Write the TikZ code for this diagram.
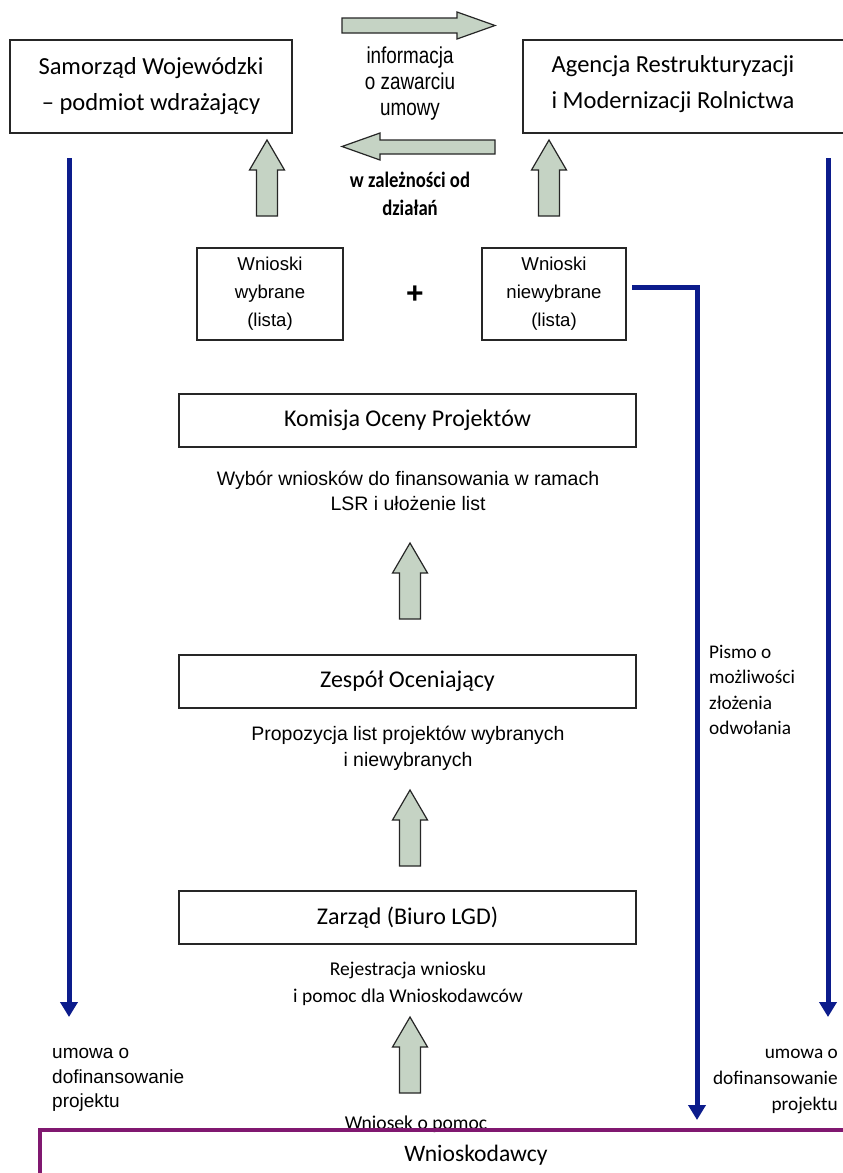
\documentclass[tikz,border=0pt]{standalone}
\usepackage{fontspec}
\setmainfont{Carlito}
\newfontfamily\arialf{Liberation Sans}
\newfontfamily\narrowf[FakeStretch=0.82]{Liberation Sans}
\newfontfamily\condf[FakeStretch=0.85]{Carlito}
\usetikzlibrary{arrows.meta}
\definecolor{arrfill}{RGB}{197,211,196}
\definecolor{navy}{RGB}{12,28,140}
\definecolor{purp}{RGB}{128,24,112}
\newcommand\fs[2]{\fontsize{#1}{#2}\selectfont}
\begin{document}
\begin{tikzpicture}[x=1pt,y=-1pt,
 box/.style={draw=black!85, line width=1.3pt, inner sep=0pt, align=center},
 lbl/.style={inner sep=0pt, align=center},
 blk/.style={draw=black!85, line width=1.2pt, fill=arrfill, line join=miter},
 conn/.style={draw=navy, line width=5pt, line join=miter, -{Triangle[length=15pt,width=17pt]}},
 uparr/.pic={\path[blk] (0,0) -- (17.5,30) -- (10.5,30) -- (10.5,76) -- (-10.5,76) -- (-10.5,30) -- (-17.5,30) -- cycle;}
]
\useasboundingbox (0,0) rectangle (843,1173);
\clip (0,0) rectangle (843,1173);
\fill[white] (0,0) rectangle (843,1173);

% top boxes
\node[box, minimum width=282pt, minimum height=93pt, font=\fs{24.5}{36}] (sw) at (151,86.5) {Samorząd Wojewódzki\\– podmiot wdrażający};
\node[box, minimum width=330pt, minimum height=93pt] (ag) at (688,86.5) {};
\node[lbl, font=\fs{24.5}{36}] (agt) at (673,84) {Agencja Restrukturyzacji\\i Modernizacji Rolnictwa};

% horizontal block arrows
\path[blk] (342,18) -- (457,18) -- (457,12) -- (495,25.5) -- (457,39) -- (457,33) -- (342,33) -- cycle;
\path[blk] (495,140) -- (380,140) -- (380,133) -- (342,146.5) -- (380,160) -- (380,154) -- (495,154) -- cycle;
\node[lbl, font=\narrowf\fs{23}{26}] (info) at (410,84) {informacja\\o zawarciu\\umowy};
\node[lbl, font=\condf\bfseries\fs{22}{28}] (zal) at (410,194) {w zależności od\\działań};

% up arrows to top boxes
\pic at (267,140) {uparr};
\pic at (549,140) {uparr};

% lists
\node[box, minimum width=146pt, minimum height=92pt, font=\arialf\fs{18.6}{28}] (wyb) at (270,294) {Wnioski\\wybrane\\(lista)};
\node[lbl, font=\arialf\bfseries\fs{30}{30}] (plus) at (415,295) {+};
\node[box, minimum width=144pt, minimum height=92pt, font=\arialf\fs{18.6}{28}] (nwyb) at (554,294) {Wnioski\\niewybrane\\(lista)};

% central column
\node[box, minimum width=457pt, minimum height=53pt, font=\fs{24}{28}] (kop) at (407.5,420.5) {Komisja Oceny Projektów};
\node[lbl, font=\arialf\fs{19.5}{25}] (kopt) at (408,490.5) {Wybór wniosków do finansowania w ramach\\LSR i ułożenie list};
\pic at (410,543) {uparr};
\node[box, minimum width=457pt, minimum height=53pt, font=\fs{24}{28}] (zo) at (407.5,681.5) {Zespół Oceniający};
\node[lbl, font=\arialf\fs{19.5}{26}] (zot) at (408,748) {Propozycja list projektów wybranych\\i niewybranych};
\pic at (410,790) {uparr};
\node[box, minimum width=457pt, minimum height=53pt, font=\fs{24}{28}] (zb) at (407.5,917.5) {Zarząd (Biuro LGD)};
\node[lbl, font=\fs{19.5}{27}] (zbt) at (408,983.5) {Rejestracja wniosku\\i pomoc dla Wnioskodawców};
\pic at (410,1017) {uparr};
\node[lbl, font=\fs{19.6}{24}] (wop) at (416,1124) {Wniosek o pomoc};

% bottom box
\node[draw=purp, line width=3.5pt, minimum width=830pt, minimum height=80pt, anchor=north west, inner sep=0pt] (wn) at (38,1128) {};
\node[lbl, font=\fs{23.6}{28}] (wnt) at (476,1155) {Wnioskodawcy};

% blue connectors
\coordinate (l1) at (69,158);
\coordinate (l2) at (69,1017);
\coordinate (r1) at (828,158);
\coordinate (r2) at (828,1017);
\coordinate (n1) at (632,287);
\coordinate (n2) at (697,1120);
\draw[conn] (l1) -- (l2);
\draw[conn] (r1) -- (r2);
\draw[conn] (n1) -| (n2);

% side labels
\node[lbl, align=left, anchor=west, font=\fs{19.3}{25.5}] (pismo) at (709,690) {Pismo o\\możliwości\\złożenia\\odwołania};
\node[lbl, align=left, anchor=west, font=\arialf\fs{19}{24.5}] (uml) at (52,1080) {umowa o\\dofinansowanie\\projektu};
\node[lbl, align=right, anchor=east, font=\fs{19.3}{26}] (umr) at (838,1081) {umowa o\\dofinansowanie\\projektu};
\end{tikzpicture}
\end{document}
